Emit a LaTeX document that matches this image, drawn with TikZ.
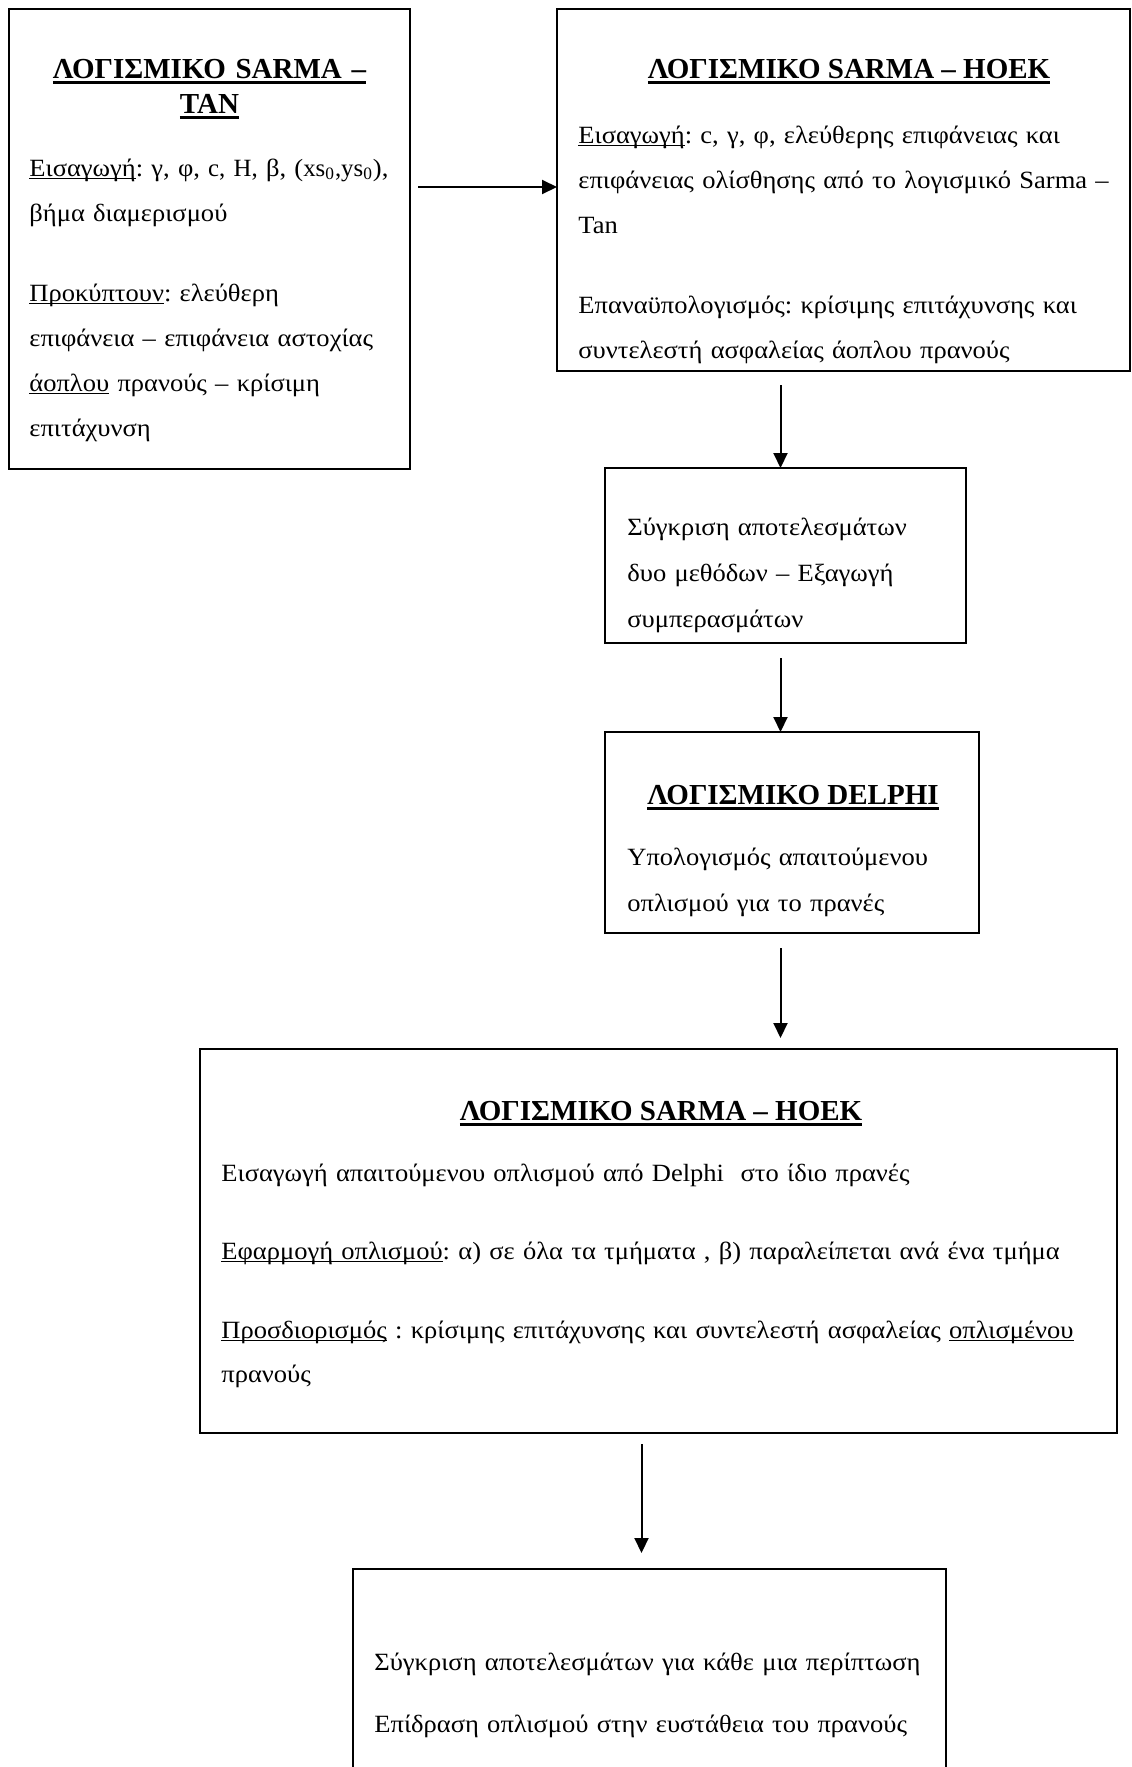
\documentclass[tikz,border=0pt]{standalone}
\usepackage{fontspec}
\setmainfont{Liberation Serif}
\newfontfamily\bodyfont{Liberation Serif}[FakeStretch=1.07]
\usepackage{tikz}
\usetikzlibrary{
	arrows.meta,
	calc,
	positioning,
	}

\newcommand{\ulgr}[3]{\leavevmode\setbox0=\hbox{#3}\rlap{\rule[#1]{\wd0}{#2}}\box0\relax}
\newcommand{\ulbody}[1]{\ulgr{-1.6pt}{0.7pt}{#1}}
\newcommand{\ultitle}[1]{\ulgr{-2.8pt}{1.4pt}{#1}}

\tikzset{
	box/.style={draw, rectangle, line width=1pt, anchor=north west, inner sep=0pt, outer sep=0pt},
	ttl/.style={anchor=base, inner sep=0pt, align=center, font=\fontsize{14.5pt}{17.5pt}\selectfont\bfseries},
	txt/.style={anchor=base west, inner sep=0pt, align=left, font=\bodyfont\fontsize{12.4pt}{#1}\selectfont},
	txt/.default=22pt,
	arr/.style={-{Triangle[length=7.5pt,width=7pt]}, line width=1pt},
}

\begin{document}
\frenchspacing
\begin{tikzpicture}[x=0.5pt, y=-0.5pt]
	\useasboundingbox (0,0) rectangle (1131,1767);
	\clip (0,0) rectangle (1131,1767);
		\node[box, minimum width=200.5pt, minimum height=230pt] (tan) at (9,9) {};
		\node[box, minimum width=286.5pt, minimum height=181pt] (hoekA) at (557,9) {};
		\node[box, minimum width=180.5pt, minimum height=87.5pt] (comp) at (605,468) {};
		\node[box, minimum width=187pt, minimum height=100.5pt] (delphi) at (605,732) {};
		\node[box, minimum width=458.5pt, minimum height=192pt] (hoekB) at (200,1049) {};
		\node[box, minimum width=296.5pt, minimum height=125pt] (final) at (353,1569) {};

		\node[ttl, text width=180.5pt] (tanT) at (209.5,78) {\ultitle{ΛΟΓΙΣΜΙΚΟ SARMA –}\\\ultitle{TAN}};
		\node[txt=22.5pt, text width=200pt] (tanB) at (29,176) {\ulbody{Εισαγωγή}: γ, φ, {\rmfamily c, H,} β, ({\rmfamily xs\textsubscript{0},ys\textsubscript{0}}),\\ βήμα διαμερισμού\\[17.5pt] \ulbody{Προκύπτουν}: ελεύθερη\\ επιφάνεια – επιφάνεια αστοχίας\\ \ulbody{άοπλου} πρανούς – κρίσιμη\\ επιτάχυνση};

		\node[ttl] (hoekAT) at (849,78) {\ultitle{ΛΟΓΙΣΜΙΚΟ SARMA – HOEK}};
		\node[txt=22.5pt, text width=280pt] (hoekAB) at (578,143) {\ulbody{Εισαγωγή}: c, γ, φ, ελεύθερης επιφάνειας και\\ επιφάνειας ολίσθησης από το λογισμικό Sarma –\\ Tan\\[17.5pt] Επαναϋπολογισμός: κρίσιμης επιτάχυνσης και\\ συντελεστή ασφαλείας άοπλου πρανούς};

		\node[txt=23pt, text width=185pt] (compB) at (627,535) {Σύγκριση αποτελεσμάτων\\ δυο μεθόδων – Εξαγωγή\\ συμπερασμάτων};

		\node[ttl] (delphiT) at (793,804) {\ultitle{ΛΟΓΙΣΜΙΚΟ DELPHI}};
		\node[txt=23pt, text width=185pt] (delphiB) at (627,865) {Υπολογισμός απαιτούμενου\\ οπλισμού για το πρανές};

		\node[ttl] (hoekBT) at (661,1120) {\ultitle{ΛΟΓΙΣΜΙΚΟ SARMA – HOEK}};
		\node[txt, text width=450pt] (hoekBB) at (221,1181) {Εισαγωγή απαιτούμενου οπλισμού από Delphi\ \ στο ίδιο πρανές\\[17pt] \ulbody{Εφαρμογή οπλισμού}: α) σε όλα τα τμήματα , β) παραλείπεται ανά ένα τμήμα\\[17.5pt] \ulbody{Προσδιορισμός} : κρίσιμης επιτάχυνσης και συντελεστή ασφαλείας \ulbody{οπλισμένου}\\ πρανούς};

		\node[txt, text width=295pt] (finalB) at (374,1670) {Σύγκριση αποτελεσμάτων για κάθε μια περίπτωση\\[9pt] Επίδραση οπλισμού στην ευστάθεια του πρανούς};

		\draw[arr] ($(tan.east |- hoekA.west)+(8,-3)$) -- ($(hoekA.west)+(0,-3)$);
		\draw[arr] ($(hoekA.south -| comp.north)+(-5,14)$) -- ($(comp.north)+(-5,0)$);
		\draw[arr] ($(comp.south)+(-5,15)$) -- ($(comp.south |- delphi.north)+(-5,0)$);
		\draw[arr] ($(delphi.south -| comp.south)+(-5,15)$) -- ($(hoekB.north -| comp.south)+(-5,-11)$);
		\draw[arr] ($(hoekB.south -| final.north)+(-8,11)$) -- ($(final.north)+(-8,-16)$);
	\end{tikzpicture}
\end{document}
